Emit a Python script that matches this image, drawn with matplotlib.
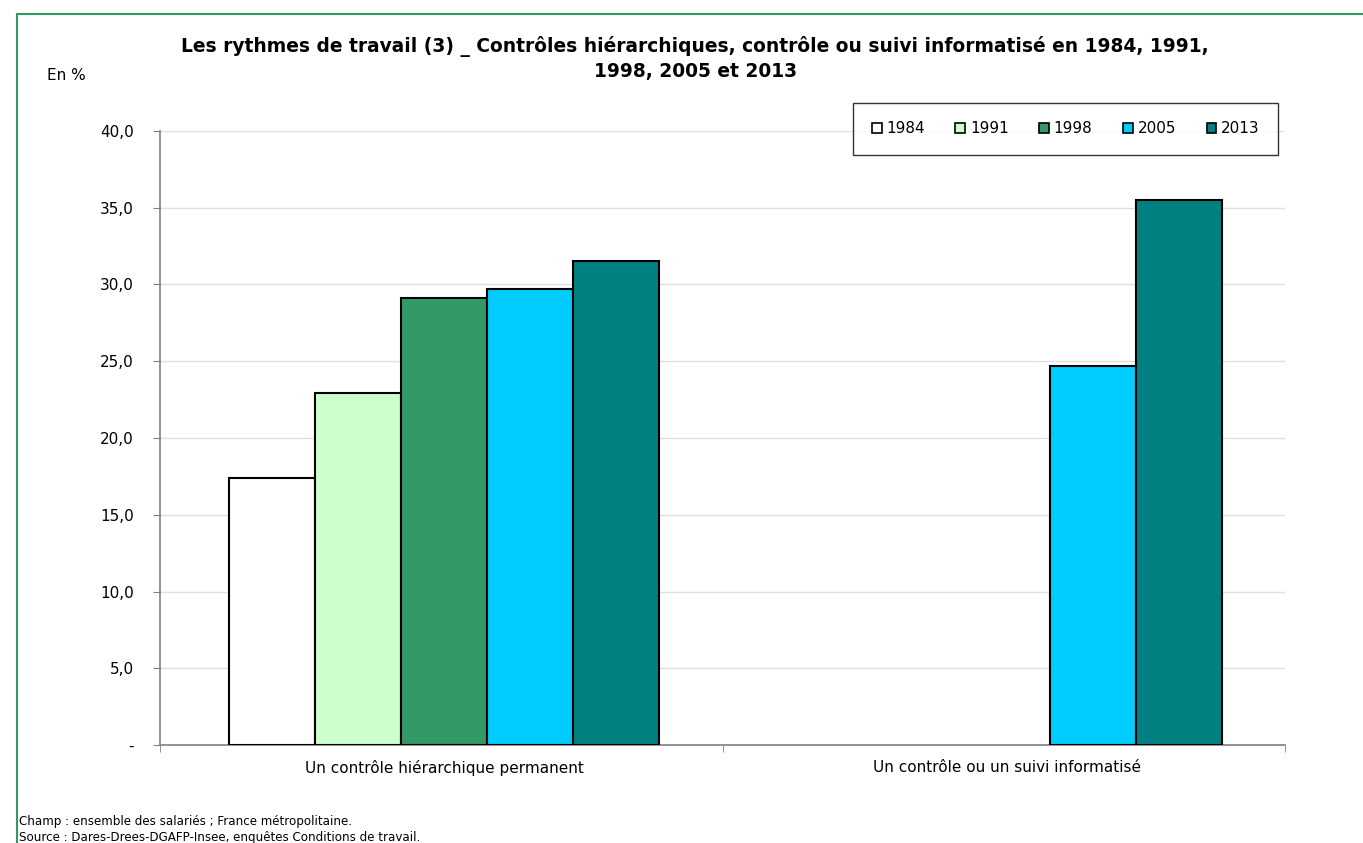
import numpy as np
import matplotlib.pyplot as plt
from matplotlib.patches import Rectangle

# données
categories = ['Un contrôle hiérarchique permanent', 'Un contrôle ou un suivi informatisé']
annees = ['1984', '1991', '1998', '2005', '2013']
v1984 = [17.4, np.nan]
v1991 = [22.9, np.nan]
v1998 = [29.1, np.nan]
v2005 = [29.7, 24.7]
v2013 = [31.5, 35.5]
couleurs = ['#FFFFFF', '#CCFFCC', '#339966', '#00CCFF', '#008080']
yticks = [0, 5, 10, 15, 20, 25, 30, 35, 40]
ytick_labels = ['-', '5,0', '10,0', '15,0', '20,0', '25,0', '30,0', '35,0', '40,0']

plt.rcParams['font.family'] = ['DejaVu Sans']

fig = plt.figure(figsize=(13.63, 8.43), dpi=100)
ax = fig.add_axes([160 / 1363, 1 - 745 / 843, 1125 / 1363, 614 / 843])

series = [v1984, v1991, v1998, v2005, v2013]
x = np.arange(len(categories))
w = 0.153
for i, (vals, c, lab) in enumerate(zip(series, couleurs, annees)):
    ax.bar(x + (i - 2) * w, vals, width=w, color=c, edgecolor='black',
           linewidth=1.5, label=lab, zorder=3)

ax.set_xlim(-0.505, 1.495)
ax.set_ylim(0, 40)
ax.set_yticks(yticks)
ax.set_yticklabels(ytick_labels, fontsize=11)
ax.set_xticks([0, 1])
ax.set_xticklabels(categories, fontsize=11)
ax.set_xticks([-0.505, 0.495, 1.495], minor=True)
ax.tick_params(axis='x', which='major', length=0, pad=11)
ax.tick_params(axis='x', which='minor', length=5, color='#808080', direction='out')
ax.tick_params(axis='y', length=5, color='#808080', pad=14)
ax.grid(axis='y', color='#e0e0e0', linewidth=1, zorder=0)
for s in ['top', 'right']:
    ax.spines[s].set_visible(False)
for s in ['left', 'bottom']:
    ax.spines[s].set_color('#808080')
    ax.spines[s].set_linewidth(1.2)

leg = fig.legend(loc='upper right', bbox_to_anchor=(1278 / 1363, 1 - 103 / 843),
                 ncol=5, fontsize=11, frameon=True, fancybox=False,
                 handlelength=0.65, handleheight=0.65, handletextpad=0.3,
                 columnspacing=2.0, borderpad=1.2, borderaxespad=0)
leg.get_frame().set_edgecolor('black')
leg.get_frame().set_linewidth(1)
for h in leg.legend_handles:
    h.set_linewidth(1.2)

fig.text(0.51, 1 - 58.5 / 843,
         'Les rythmes de travail (3) _ Contrôles hiérarchiques, contrôle ou suivi informatisé en 1984, 1991,\n1998, 2005 et 2013',
         ha='center', va='center', fontsize=13.4, fontweight='bold', linespacing=1.35)
fig.text(47 / 1363, 1 - 76 / 843, 'En %', fontsize=11, va='center')
fig.text(19 / 1363, 1 - 821 / 843, 'Champ : ensemble des salariés ; France métropolitaine.',
         fontsize=8.6, va='center')
fig.text(19 / 1363, 1 - 837 / 843, 'Source : Dares-Drees-DGAFP-Insee, enquêtes Conditions de travail.',
         fontsize=8.6, va='center')

# cadre vert
fig.patches.append(Rectangle((16.5 / 1363, -0.01), 1.1, 1 - 13.5 / 843 + 0.01,
                             transform=fig.transFigure, fill=False,
                             edgecolor='#339966', linewidth=1.5))

fig.savefig('out.png', dpi=100)
